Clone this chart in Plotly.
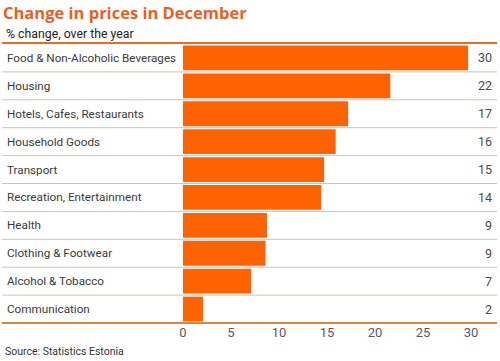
import plotly.graph_objects as go

categories = ["Food & Non-Alcoholic Beverages", "Housing", "Hotels, Cafes, Restaurants",
              "Household Goods", "Transport", "Recreation, Entertainment", "Health",
              "Clothing & Footwear", "Alcohol & Tobacco", "Communication"]
values = [29.7, 21.6, 17.2, 15.9, 14.7, 14.4, 8.75, 8.6, 7.1, 2.1]
value_labels = ["30", "22", "17", "16", "15", "14", "9", "9", "7", "2"]
tick_vals = [0, 5, 10, 15, 20, 25, 30]

W, H = 500, 361
PL, PR, PT, PB = 183, 471, 43.5, 323.5

def px(x):
    return (x - PL) / (PR - PL)

def py(y):
    return (PB - y) / (PB - PT)

idx = list(range(len(categories)))

fig = go.Figure(go.Bar(
    x=values, y=idx, orientation="h",
    marker=dict(color="#FF6200", line=dict(width=0)),
    width=0.89, hoverinfo="skip",
))

shapes = []
for i in range(len(categories) - 1):
    shapes.append(dict(type="line", xref="paper", yref="y",
                       x0=px(2), x1=px(497), y0=i + 0.5, y1=i + 0.5,
                       line=dict(color="#cdc3b8", width=1), layer="below"))
shapes.append(dict(type="line", xref="paper", yref="paper", x0=px(2), x1=px(497),
                   y0=py(42.5), y1=py(42.5), line=dict(color="#EE6A1F", width=2)))
shapes.append(dict(type="line", xref="paper", yref="paper", x0=px(2), x1=px(497),
                   y0=py(323.5), y1=py(323.5), line=dict(color="#D9873E", width=2)))

ann = []
for i, (c, lab) in enumerate(zip(categories, value_labels)):
    ann.append(dict(xref="paper", yref="y", x=px(5), y=i, text=c, showarrow=False,
                    xanchor="left", yanchor="middle",
                    font=dict(family="Roboto", size=11.7, color="#3a3a3a")))
    ann.append(dict(xref="paper", yref="y", x=px(494), y=i, text=lab, showarrow=False,
                    xanchor="right", yanchor="middle",
                    font=dict(family="Roboto", size=12.5, color="#4a4a4a")))
ann.append(dict(xref="paper", yref="paper", x=px(1), y=py(12), text="<b>Change in prices in December</b>",
                showarrow=False, xanchor="left", yanchor="middle",
                font=dict(family="Open Sans", size=16.5, color="#EC5E1E")))
ann.append(dict(xref="paper", yref="paper", x=px(4), y=py(33), text="% change, over the year",
                showarrow=False, xanchor="left", yanchor="middle",
                font=dict(family="Roboto", size=12.3, color="#222222")))
ann.append(dict(xref="paper", yref="paper", x=px(3), y=py(352), text="Source: Statistics Estonia",
                showarrow=False, xanchor="left", yanchor="middle",
                font=dict(family="Roboto", size=10.5, color="#333333")))

fig.update_layout(
    width=W, height=H,
    margin=dict(l=PL, r=W - PR, t=PT, b=H - PB, pad=0),
    paper_bgcolor="white", plot_bgcolor="white",
    showlegend=False,
    xaxis=dict(range=[0, 30], tickvals=tick_vals, ticktext=[str(t) for t in tick_vals],
               showgrid=False, zeroline=False, showline=False, ticks="",
               tickfont=dict(family="Roboto", size=13, color="#5a5a5a"),
               fixedrange=True),
    yaxis=dict(range=[len(categories) - 0.5, -0.5], showticklabels=False, showgrid=False,
               zeroline=False, showline=False, ticks="", fixedrange=True),
    shapes=shapes, annotations=ann,
)

fig.write_html("out.html", config={"displayModeBar": False},
               post_script="document.body.style.margin='0';document.body.style.overflow='hidden';")
